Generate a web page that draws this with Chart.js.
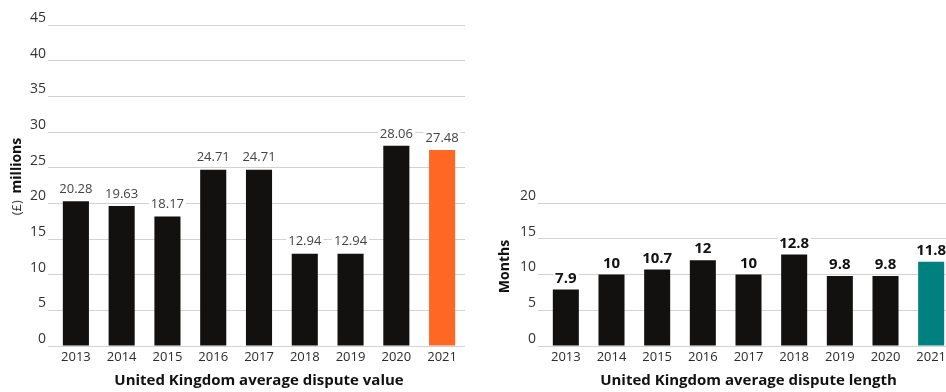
<!DOCTYPE html>
<html>
<head>
<meta charset="utf-8">
<script src="https://cdn.jsdelivr.net/npm/chart.js@4.4.1/dist/chart.umd.min.js"></script>
<style>
  html, body { margin: 0; padding: 0; background: #fff; overflow: hidden; }
  body { width: 946px; height: 392px; position: relative; }
  .box { position: absolute; top: 0; height: 392px; }
  #boxValue { left: 0; width: 480px; }
  #boxLength { left: 488px; width: 470px; }
</style>
</head>
<body>
<div class="box" id="boxValue"><canvas id="disputeValue"></canvas></div>
<div class="box" id="boxLength"><canvas id="disputeLength"></canvas></div>
<script>
// ============================
// Data
// ============================
const years = ["2013", "2014", "2015", "2016", "2017", "2018", "2019", "2020", "2021"];
const valueMillions = [20.28, 19.63, 18.17, 24.71, 24.71, 12.94, 12.94, 28.06, 27.48];
const lengthMonths = [7.9, 10, 10.7, 12, 10, 12.8, 9.8, 9.8, 11.8];
const valueTicks = [0, 5, 10, 15, 20, 25, 30, 35, 40, 45];
const lengthTicks = [0, 5, 10, 15, 20];

const FONT = "'Open Sans', 'Noto Sans', sans-serif";
const BAR_DARK = "#121110";
const GRID = "#d2d2d2";

// last bar gets the highlight colour
function barColours(n, highlight) {
  const c = new Array(n).fill(BAR_DARK);
  c[n - 1] = highlight;
  return c;
}

// value labels above the bars, on a white patch over the grid line
const barLabels = {
  id: "barLabels",
  afterDatasetsDraw(chart, args, opts) {
    const ctx = chart.ctx;
    const meta = chart.getDatasetMeta(0);
    ctx.save();
    ctx.font = opts.font;
    ctx.textAlign = "center";
    ctx.textBaseline = "middle";
    meta.data.forEach((bar, i) => {
      const txt = String(chart.data.datasets[0].data[i]);
      const y = bar.y - opts.offset;
      const w = ctx.measureText(txt).width;
      ctx.fillStyle = "#fff";
      ctx.fillRect(bar.x - w / 2 - 2, y - 8, w + 4, 15);
      ctx.fillStyle = opts.color;
      ctx.fillText(txt, bar.x, y);
    });
    ctx.restore();
  }
};

// rotated y title, parts can use different weights
const yTitle = {
  id: "yTitle",
  afterDraw(chart, args, opts) {
    const ctx = chart.ctx;
    const area = chart.chartArea;
    ctx.save();
    ctx.translate(opts.x, (area.top + area.bottom) / 2 + (opts.dy || 0));
    ctx.rotate(-Math.PI / 2);
    ctx.textBaseline = "middle";
    let total = 0;
    const widths = opts.parts.map(p => {
      ctx.font = p.font;
      const w = ctx.measureText(p.text).width;
      total += w;
      return w;
    });
    let x = -total / 2;
    opts.parts.forEach((p, i) => {
      ctx.font = p.font;
      ctx.fillStyle = p.color;
      ctx.textAlign = "left";
      ctx.fillText(p.text, x, 0);
      x += widths[i];
    });
    ctx.restore();
  }
};

function makeChart(canvasId, values, ticks, maxY, highlight, cfg) {
  return new Chart(document.getElementById(canvasId), {
    type: "bar",
    data: {
      labels: years,
      datasets: [{
        data: values,
        backgroundColor: barColours(values.length, highlight),
        barPercentage: 0.57,
        categoryPercentage: 1
      }]
    },
    options: {
      responsive: true,
      maintainAspectRatio: false,
      animation: false,
      layout: { padding: cfg.padding },
      plugins: {
        legend: { display: false },
        tooltip: { enabled: false },
        barLabels: cfg.labels,
        yTitle: cfg.yTitle
      },
      scales: {
        x: {
          grid: { display: false },
          border: { display: false },
          ticks: { color: "#2b2b2b", padding: -5, font: { family: FONT, size: 13 } },
          title: {
            display: true,
            text: cfg.xTitle,
            color: "#111",
            font: { family: FONT, size: 15, weight: "bold" },
            padding: { top: 4, bottom: 2 }
          },
          afterFit(scale) { scale.height = 46; }
        },
        y: {
          min: 0,
          max: maxY,
          afterBuildTicks(scale) { scale.ticks = ticks.map(v => ({ value: v })); },
          grid: {
            color: GRID,
            lineWidth: 1,
            drawTicks: true,
            tickLength: 5
          },
          border: { display: false },
          ticks: {
            color: "#333",
            padding: 2,
            labelOffset: -7,
            font: { family: FONT, size: 14 }
          },
          afterFit(scale) { scale.width = cfg.yWidth; }
        }
      }
    },
    plugins: [barLabels, yTitle]
  });
}

// ============================
// Average dispute value
// ============================
makeChart("disputeValue", valueMillions, valueTicks, 45, "#ff6824", {
  padding: { top: 25, right: 15, bottom: 0, left: 0 },
  yWidth: 53,
  xTitle: "United Kingdom average dispute value",
  labels: { font: "13px " + FONT, color: "#444", offset: 12 },
  yTitle: {
    x: 17,
    dy: -9,
    parts: [
      { text: "(£)  ", font: "13px " + FONT, color: "#333" },
      { text: "millions", font: "bold 14px " + FONT, color: "#111" }
    ]
  }
});

// ============================
// Average dispute length
// ============================
makeChart("disputeLength", lengthMonths, lengthTicks, 20, "#00807f", {
  padding: { top: 203, right: 4, bottom: 0, left: 0 },
  yWidth: 55,
  xTitle: "United Kingdom average dispute length",
  labels: { font: "bold 15px " + FONT, color: "#111", offset: 11 },
  yTitle: {
    x: 17,
    dy: -8,
    parts: [
      { text: "Months", font: "bold 14px " + FONT, color: "#111" }
    ]
  }
});
</script>
</body>
</html>
